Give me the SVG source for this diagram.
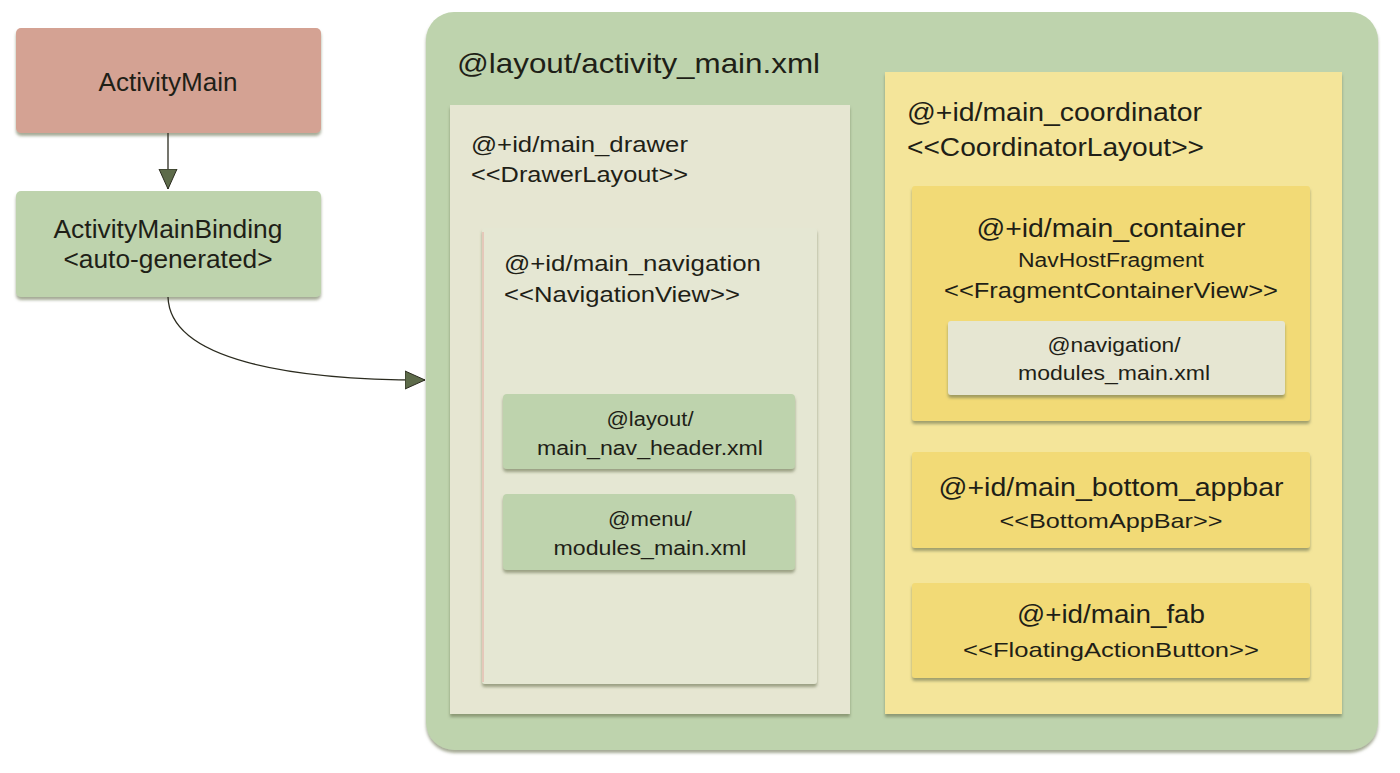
<svg xmlns="http://www.w3.org/2000/svg" width="1400" height="773" viewBox="0 0 1400 773">
<defs>
<filter id="sh" x="-5%" y="-5%" width="110%" height="115%">
<feDropShadow dx="0" dy="3" stdDeviation="1.5" flood-color="#6b7250" flood-opacity="0.6"/>
</filter>
<marker id="ah2" viewBox="0 0 20 20" refX="20" refY="10" markerWidth="20" markerHeight="20" markerUnits="userSpaceOnUse" orient="auto">
<path d="M0,1 L20,10 L0,19 z" fill="#5d6b4a" stroke="#2b2b1f" stroke-width="1"/>
</marker>
</defs>
<style>
text{font-family:"Liberation Sans",Arial,sans-serif;fill:#1f1f17}
.c{text-anchor:middle}
.conn{fill:none;stroke:#2b2b1f;stroke-width:1.3}
</style>
<rect width="1400" height="773" fill="#ffffff"/>

<g id="activity_main">
<rect x="16" y="28" width="305" height="105" rx="5" fill="#d4a293" filter="url(#sh)"/>
<text x="168" y="91" class="c" font-size="25" textLength="139" lengthAdjust="spacingAndGlyphs">ActivityMain</text>
</g>

<g id="activity_main_binding">
<rect x="16" y="191" width="305" height="106" rx="5" fill="#bed3ad" filter="url(#sh)"/>
<text x="168" y="238" class="c" font-size="25" textLength="229" lengthAdjust="spacingAndGlyphs">ActivityMainBinding</text>
<text x="168" y="268" class="c" font-size="25" textLength="209" lengthAdjust="spacingAndGlyphs">&lt;auto-generated&gt;</text>
</g>

<g id="layout_activity_main">
<rect x="426" y="12" width="952" height="738" rx="28" fill="#bed3ad" filter="url(#sh)"/>
<text x="457" y="73" font-size="28" textLength="363" lengthAdjust="spacingAndGlyphs">@layout/activity_main.xml</text>
</g>

<g id="main_drawer">
<rect x="450" y="105" width="400" height="609" fill="#e6e6d2" filter="url(#sh)"/>
<text x="471" y="152" font-size="22" textLength="217" lengthAdjust="spacingAndGlyphs">@+id/main_drawer</text>
<text x="471" y="182" font-size="22" textLength="217" lengthAdjust="spacingAndGlyphs">&lt;&lt;DrawerLayout&gt;&gt;</text>
</g>

<g id="main_navigation">
<rect x="482" y="228" width="335" height="456" rx="3" fill="#e5e7d3" filter="url(#sh)"/>
<line x1="483" y1="232" x2="483" y2="682" stroke="#e4a9a0" stroke-width="1"/>
<text x="504" y="271" font-size="22" textLength="257" lengthAdjust="spacingAndGlyphs">@+id/main_navigation</text>
<text x="504" y="302" font-size="22" textLength="236" lengthAdjust="spacingAndGlyphs">&lt;&lt;NavigationView&gt;&gt;</text>
</g>

<g id="main_nav_header">
<rect x="503" y="394" width="292" height="75" rx="4" fill="#bed3ad" filter="url(#sh)"/>
<text x="650" y="426" class="c" font-size="20" textLength="87" lengthAdjust="spacingAndGlyphs">@layout/</text>
<text x="650" y="455" class="c" font-size="20" textLength="226" lengthAdjust="spacingAndGlyphs">main_nav_header.xml</text>
</g>

<g id="menu_modules_main">
<rect x="503" y="494" width="292" height="76" rx="4" fill="#bed3ad" filter="url(#sh)"/>
<text x="650" y="526" class="c" font-size="20" textLength="84" lengthAdjust="spacingAndGlyphs">@menu/</text>
<text x="650" y="555" class="c" font-size="20" textLength="193" lengthAdjust="spacingAndGlyphs">modules_main.xml</text>
</g>

<g id="main_coordinator">
<rect x="885" y="72" width="457" height="642" fill="#f4e59a" filter="url(#sh)"/>
<text x="907" y="121" font-size="25" textLength="295" lengthAdjust="spacingAndGlyphs">@+id/main_coordinator</text>
<text x="907" y="156" font-size="25" textLength="297" lengthAdjust="spacingAndGlyphs">&lt;&lt;CoordinatorLayout&gt;&gt;</text>
</g>

<g id="main_container">
<rect x="912" y="186" width="398" height="235" rx="3" fill="#f2da76" filter="url(#sh)"/>
<text x="1111" y="237" class="c" font-size="25" textLength="269" lengthAdjust="spacingAndGlyphs">@+id/main_container</text>
<text x="1111" y="267" class="c" font-size="20" textLength="186" lengthAdjust="spacingAndGlyphs">NavHostFragment</text>
<text x="1111" y="298" class="c" font-size="22" textLength="334" lengthAdjust="spacingAndGlyphs">&lt;&lt;FragmentContainerView&gt;&gt;</text>
</g>

<g id="navigation_modules_main">
<rect x="948" y="321" width="337" height="74" rx="3" fill="#e6e6d2" filter="url(#sh)"/>
<text x="1114" y="352" class="c" font-size="20" textLength="133" lengthAdjust="spacingAndGlyphs">@navigation/</text>
<text x="1114" y="380" class="c" font-size="20" textLength="192" lengthAdjust="spacingAndGlyphs">modules_main.xml</text>
</g>

<g id="main_bottom_appbar">
<rect x="912" y="452" width="398" height="96" rx="3" fill="#f2da76" filter="url(#sh)"/>
<text x="1111" y="496" class="c" font-size="25" textLength="345" lengthAdjust="spacingAndGlyphs">@+id/main_bottom_appbar</text>
<text x="1111" y="528" class="c" font-size="21" textLength="223" lengthAdjust="spacingAndGlyphs">&lt;&lt;BottomAppBar&gt;&gt;</text>
</g>

<g id="main_fab">
<rect x="912" y="583" width="398" height="95" rx="3" fill="#f2da76" filter="url(#sh)"/>
<text x="1111" y="623" class="c" font-size="25" textLength="188" lengthAdjust="spacingAndGlyphs">@+id/main_fab</text>
<text x="1111" y="657" class="c" font-size="21" textLength="296" lengthAdjust="spacingAndGlyphs">&lt;&lt;FloatingActionButton&gt;&gt;</text>
</g>

<g id="connectors">
<path class="conn" d="M168,133 L168,189" marker-end="url(#ah2)"/>
<path class="conn" d="M168,297 C170,360 290,380 425,380" marker-end="url(#ah2)"/>
</g>
</svg>
